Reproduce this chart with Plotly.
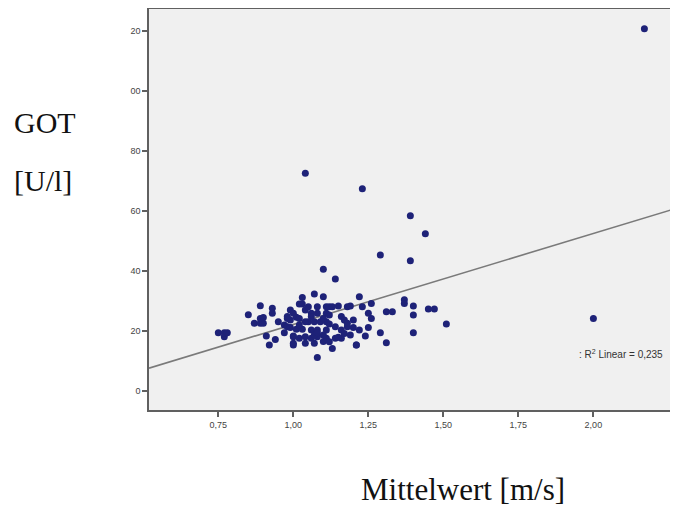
import plotly.graph_objects as go

# Mittelwert [m/s] (x) and GOT [U/l] (y)
mittelwert = [
    2.17, 2.00, 1.04, 1.23, 1.39, 1.44, 1.29, 1.39, 1.10, 1.14,
    0.75, 0.77, 0.77, 0.78, 0.85, 0.89, 0.87, 0.89, 0.90, 0.89, 0.90,
    0.93, 0.93, 0.91, 0.92, 0.94, 0.95, 0.97, 0.97, 0.98, 0.99, 0.99,
    0.98, 0.99, 1.00, 1.00, 1.00, 0.98,
    1.03, 1.07, 1.10, 1.02, 1.03, 1.04, 1.05, 1.08, 1.11, 1.12, 1.13, 1.15, 1.18, 1.19,
    1.06, 1.08, 1.11, 1.01, 1.02, 1.06, 1.05, 1.07, 1.09, 1.11, 1.10, 1.16, 1.17, 1.20, 1.12,
    1.01, 1.03, 1.06, 1.08, 1.11, 1.14, 1.16, 1.18, 1.02, 1.04, 1.12, 1.18, 1.20,
    1.00, 1.02, 1.04, 1.06, 1.08, 1.11, 1.14, 1.16, 1.17, 1.07, 1.10, 1.08,
    1.00, 1.04, 1.07, 1.10, 1.12, 1.13, 1.08, 1.19, 1.21, 1.15,
    1.22, 1.23, 1.26, 1.25, 1.26, 1.31, 1.33, 1.37, 1.37, 1.40, 1.40, 1.45, 1.47,
    1.51, 1.40, 1.31, 1.29, 1.25, 1.24, 1.22, 1.21,
]
got = [
    120.7, 24.2, 72.6, 67.4, 58.4, 52.4, 45.3, 43.4, 40.6, 37.3,
    19.4, 18.1, 19.4, 19.4, 25.4, 28.4, 22.6, 22.6, 22.6, 24.2, 24.5,
    27.6, 25.9, 18.3, 15.3, 17.2, 23.1, 22.0, 19.4, 24.2, 27.0, 23.7,
    21.4, 21.2, 25.9, 18.3, 15.3, 24.8,
    31.2, 32.3, 31.4, 29.0, 29.0, 27.0, 28.1, 28.1, 28.1, 28.1, 28.1, 28.3, 28.1, 28.3,
    25.9, 25.9, 25.9, 24.6, 24.2, 24.8, 23.1, 23.1, 23.1, 23.1, 24.2, 24.8, 23.7, 23.7, 25.3,
    20.6, 20.6, 20.3, 20.3, 20.3, 21.4, 20.3, 21.4, 22.0, 23.1, 22.3, 22.6, 21.2,
    18.1, 17.6, 18.1, 17.6, 18.1, 17.6, 17.6, 17.6, 19.2, 18.7, 18.7, 19.4,
    15.9, 15.9, 15.9, 16.5, 16.4, 14.2, 11.2, 18.7, 15.3, 17.9,
    31.4, 28.1, 29.2, 25.9, 24.2, 26.4, 26.4, 30.4, 29.2, 28.3, 25.3, 27.3, 27.3,
    22.3, 19.4, 16.1, 19.4, 21.2, 18.3, 20.3, 15.3,
]

# linear fit line as shown (R² = 0,235)
fit_intercept = -8.1
fit_slope = 30.3
x_range = [0.519, 2.282]
y_range = [-6.33, 127.3]

x_ticks = [0.75, 1.00, 1.25, 1.50, 1.75, 2.00]
y_ticks = [0, 20, 40, 60, 80, 100, 120]
y_ticktext = ["0", "20", "40", "60", "80", "00", "20"]

fig = go.Figure()
fig.add_trace(go.Scatter(
    x=x_range,
    y=[fit_intercept + fit_slope * v for v in x_range],
    mode="lines", line=dict(color="#7a7a7a", width=1.6),
    hoverinfo="skip", showlegend=False,
))
fig.add_trace(go.Scatter(
    x=mittelwert, y=got, mode="markers",
    marker=dict(color="#1e2278", size=7, line=dict(width=0)),
    showlegend=False,
))

axis_font = dict(family="Liberation Sans, Arial, sans-serif", size=9, color="#444444")
serif = dict(family="Liberation Serif, Times New Roman, serif", size=30, color="#111111")

# page body has an 8px margin, so the figure is 8px smaller than the window
PW = 529.0   # plot width in px
PH = 401.0   # plot height in px


def px(xr):
    return (xr - 149) / PW


def py(yr):
    return (410 - yr) / PH


fig.update_layout(
    width=670, height=501,
    margin=dict(l=141, r=0, t=1, b=99),
    paper_bgcolor="white",
    plot_bgcolor="#f0f0f0",
    separators=",.",
    xaxis=dict(
        range=x_range, tickvals=x_ticks, tickformat=".2f",
        showgrid=False, zeroline=False,
        showline=True, linecolor="#606060", linewidth=1.5, mirror=True,
        ticks="outside", ticklen=5, tickcolor="#606060", tickwidth=1.5,
        tickfont=axis_font,
    ),
    yaxis=dict(
        range=y_range, tickvals=y_ticks, ticktext=y_ticktext,
        showgrid=False, zeroline=False,
        showline=True, linecolor="#606060", linewidth=1.5,
        ticks="outside", ticklen=5, tickcolor="#606060", tickwidth=1.5,
        tickfont=axis_font,
    ),
)

fig.add_annotation(text=": R<sup>2</sup> Linear = 0,235", xref="paper", yref="paper",
                   x=px(665), y=py(354), xanchor="right", yanchor="middle",
                   showarrow=False,
                   font=dict(family="Liberation Sans, Arial, sans-serif",
                             size=10, color="#333333"))
fig.add_annotation(text="GOT", xref="paper", yref="paper",
                   x=px(12), y=py(122),
                   xanchor="left", yanchor="middle", showarrow=False, font=serif)
fig.add_annotation(text="[U/l]", xref="paper", yref="paper",
                   x=px(12), y=py(180),
                   xanchor="left", yanchor="middle", showarrow=False, font=serif)
fig.add_annotation(text="Mittelwert [m/s]", xref="paper", yref="paper",
                   x=px(463), y=py(489),
                   xanchor="center", yanchor="middle", showarrow=False,
                   font=dict(family="Liberation Serif, Times New Roman, serif",
                             size=31, color="#111111"))

fig.write_html("out.html")
